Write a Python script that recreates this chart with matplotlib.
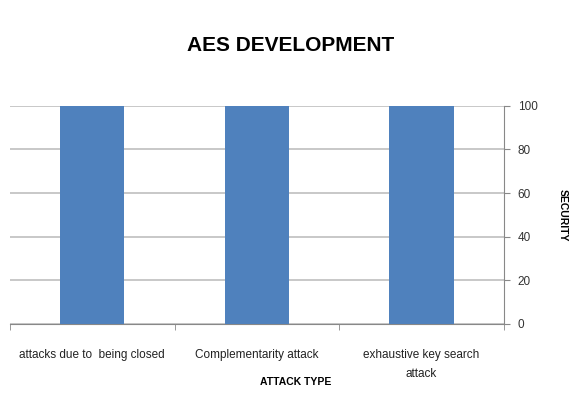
import matplotlib
matplotlib.use("Agg")
import matplotlib.pyplot as plt
import numpy as np

categories = ["attacks due to  being closed", "Complementarity attack", "exhaustive key search\nattack"]
security = [100, 100, 100]
yticks = [0, 20, 40, 60, 80, 100]

plt.rcParams['font.family'] = ['Liberation Sans', 'DejaVu Sans']

fig = plt.figure(figsize=(5.7, 3.98), dpi=100)
ax = fig.add_axes([0.0175, 0.186, 0.8665, 0.548])

x = np.arange(len(categories))
ax.bar(x, security, width=0.39, color='#4f81bd', zorder=3)
ax.set_xlim(-0.5, len(categories) - 0.5)
ax.set_ylim(0, 100)

ax.yaxis.tick_right()
ax.yaxis.set_label_position('right')
ax.set_yticks(yticks)
ax.set_yticklabels([str(v) for v in yticks], fontsize=8.5, color='#333333')
ax.grid(axis='y', color='#bfbfbf', linewidth=1.2, zorder=0)

ax.set_xticks(x)
ax.set_xticklabels(categories, fontsize=8.5, color='#222222', linespacing=1.8)
ax.tick_params(axis='x', length=0, pad=18)
# category boundary ticks
ax.set_xticks(np.arange(-0.5, len(categories), 1.0), minor=True)
ax.tick_params(axis='x', which='minor', length=4, color='#888888', direction='out')
ax.tick_params(axis='y', length=4, color='#888888', direction='out', pad=6)

for s in ['top', 'left']:
    ax.spines[s].set_visible(False)
ax.spines['right'].set_color('#888888')
ax.spines['bottom'].set_color('#888888')

fig.text(0.518, 1 - 382 / 398, "ATTACK TYPE", ha='center', va='center', fontsize=7.5, fontweight='bold')
ax.set_ylabel("SECURITY", fontsize=7.5, fontweight='bold', rotation=270, labelpad=22)

fig.text(0.51, 0.885, "AES DEVELOPMENT", ha='center', va='center', fontsize=15, fontweight='bold')

fig.savefig("out.png", dpi=100)
